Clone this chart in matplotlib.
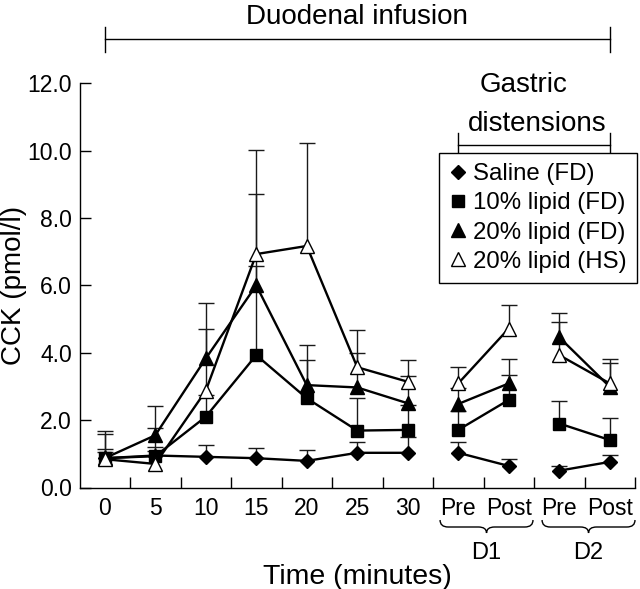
import numpy as np
import matplotlib
matplotlib.use("Agg")
import matplotlib.pyplot as plt
from matplotlib.lines import Line2D
from matplotlib.path import Path
from matplotlib.patches import PathPatch
from matplotlib.transforms import blended_transform_factory

plt.rcParams['font.family'] = ['Liberation Sans', 'DejaVu Sans']

# ---------------- data ----------------
tick_labels = ['0', '5', '10', '15', '20', '25', '30', 'Pre', 'Post', 'Pre', 'Post']
series_names = ['Saline (FD)', '10% lipid (FD)', '20% lipid (FD)', '20% lipid (HS)']

saline_mean = [0.87, 0.95, 0.91, 0.87, 0.79, 1.03, 1.03, 1.03, 0.64, 0.50, 0.76]
saline_top  = [1.05, 1.08, 1.26, 1.16, 1.11, 1.36, 1.49, 1.36, 0.84, 0.64, 0.96]

lipid10_mean = [0.87, 0.93, 2.10, 3.93, 2.65, 1.69, 1.71, 1.71, 2.60, 1.90, 1.41]
lipid10_top  = [1.15, 1.21, 2.75, 6.57, 3.78, 2.66, 2.45, 2.28, 3.34, 2.58, 2.05]

lipid20_mean = [0.87, 1.55, 3.83, 6.00, 3.04, 2.97, 2.50, 2.48, 3.09, 4.46, 2.99]
lipid20_top  = [1.58, 2.43, 5.47, 8.70, 4.23, 3.98, 3.31, 2.95, 3.82, 5.19, 3.70]

hs_mean = [0.84, 0.70, 2.87, 6.93, 7.17, 3.57, 3.14, 3.09, 4.72, 3.93, 3.09]
hs_top  = [1.67, 1.77, 4.72, 10.01, 10.24, 4.67, 3.78, 3.58, 5.42, 4.92, 3.82]

segments = [(0, 7), (7, 9), (9, 11)]
y_ticks = [0, 2, 4, 6, 8, 10, 12]

# ---------------- figure ----------------
W, H = 640, 589
fig = plt.figure(figsize=(W / 100, H / 100), dpi=100)
ax = fig.add_axes([79.5 / W, (H - 487.5) / H, (635 - 79.5) / W, (487.5 - 83.3) / H])

x = np.arange(len(tick_labels))

styles = [
    dict(marker='D', ms=7.0, mfc='black', mec='black'),
    dict(marker='s', ms=9.0, mfc='black', mec='black'),
    dict(marker='^', ms=10.0, mfc='black', mec='black'),
    dict(marker='^', ms=10.0, mfc='white', mec='black'),
]
means = [saline_mean, lipid10_mean, lipid20_mean, hs_mean]
tops = [saline_top, lipid10_top, lipid20_top, hs_top]

err_col = '#1a1a1a'
for k, (m, t, st) in enumerate(zip(means, tops, styles)):
    m = np.array(m)
    t = np.array(t)
    ax.vlines(x, m, t, colors=err_col, linewidth=1.0, zorder=2 + k * 0.1)
    ax.plot(x, t, ls='none', marker='_', ms=11, mew=1.0, color=err_col, zorder=2 + k * 0.1)

for k, (m, st) in enumerate(zip(means, styles)):
    m = np.array(m)
    for a, b in segments:
        ax.plot(x[a:b], m[a:b], color='black', lw=1.7, mew=1.0, zorder=4 + k, **st)

ax.set_xlim(-0.5, 10.5)
ax.set_ylim(0, 12)
ax.set_yticks(y_ticks)
ax.set_yticklabels([f'{v:.1f}' for v in y_ticks])
ax.set_xticks(x)
ax.set_xticklabels(tick_labels)
ax.set_xticks(np.arange(len(tick_labels)) + 0.5, minor=True)
ax.tick_params(axis='x', which='major', length=0, pad=7, labelsize=16.5)
ax.tick_params(axis='x', which='minor', length=8, width=1.0, direction='in')
ax.tick_params(axis='y', which='major', length=8, width=1.0, direction='in', pad=5.5, labelsize=16.5)
for s in ['top', 'right']:
    ax.spines[s].set_visible(False)
for s in ['left', 'bottom']:
    ax.spines[s].set_linewidth(1.0)

def fy(ypx):
    return 1 - ypx / H

# axis labels
fig.text(357 / W, fy(584), 'Time (minutes)', ha='center', va='baseline', fontsize=20.5)
fig.text(14 / W, fy(285), 'CCK (pmol/l)', ha='center', va='center', rotation=90, fontsize=20)

# legend
handles = [Line2D([], [], ls='none', color='black', **st) for st in styles]
leg = ax.legend(handles, series_names, loc='upper left',
                bbox_to_anchor=(439 / W, fy(153)), bbox_transform=fig.transFigure,
                borderaxespad=0, fontsize=17.3, handlelength=0.7, handletextpad=0.3,
                borderpad=0.42, labelspacing=0.3, fancybox=False, framealpha=1,
                edgecolor='black')
leg.get_frame().set_linewidth(1.0)

# brackets above
bt = blended_transform_factory(ax.transData, fig.transFigure)
def bracket(x0, x1, ypx, t0, t1):
    ax.plot([x0, x1], [fy(ypx), fy(ypx)], color='black', lw=1.0, transform=bt, clip_on=False)
    for xx in (x0, x1):
        ax.plot([xx, xx], [fy(t0), fy(t1)], color='black', lw=1.0, transform=bt, clip_on=False)

bracket(0, 10, 39, 26.5, 52)
ax.text(5, fy(24.5), 'Duodenal infusion', transform=bt, ha='center', va='baseline', fontsize=20)
bracket(7, 10, 145, 133, 158)
ax.text(8.3, fy(92), 'Gastric', transform=bt, ha='center', va='baseline', fontsize=20)
ax.text(8.56, fy(131), 'distensions', transform=bt, ha='center', va='baseline', fontsize=20)

# curly braces under Pre/Post
def brace(x0, x1, ytop, ymid, ybot, dx=0.16):
    xc = (x0 + x1) / 2
    verts = [(x0, fy(ytop)), (x0, fy(ymid)), (x0 + dx, fy(ymid)),
             (xc - dx, fy(ymid)),
             (xc, fy(ymid)), (xc, fy(ybot)),
             (xc, fy(ymid)), (xc + dx, fy(ymid)),
             (x1 - dx, fy(ymid)),
             (x1, fy(ymid)), (x1, fy(ytop))]
    codes = [Path.MOVETO, Path.CURVE3, Path.CURVE3, Path.LINETO,
             Path.CURVE3, Path.CURVE3, Path.CURVE3, Path.CURVE3,
             Path.LINETO, Path.CURVE3, Path.CURVE3]
    ax.add_patch(PathPatch(Path(verts, codes), fc='none', ec='black', lw=1.0,
                           transform=bt, clip_on=False))
    return xc

c1 = brace(6.64, 8.48, 520, 527, 533)
c2 = brace(8.66, 10.5, 520, 527, 533)
ax.text(c1, fy(559), 'D1', transform=bt, ha='center', va='baseline', fontsize=17)
ax.text(c2, fy(559), 'D2', transform=bt, ha='center', va='baseline', fontsize=17)

fig.savefig('out.png', dpi=100)
